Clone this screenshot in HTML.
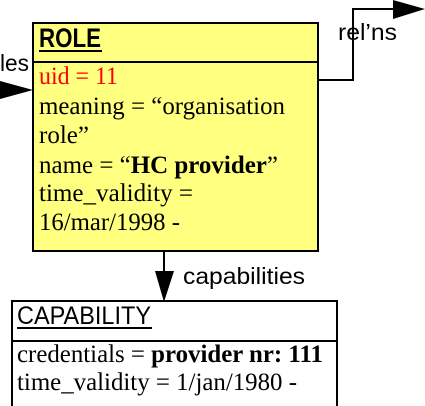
<!DOCTYPE html>
<html><head><style>html,body{margin:0;padding:0;background:#fff}svg{display:block}</style></head>
<body>
<svg width="425" height="406" xmlns="http://www.w3.org/2000/svg">
<rect x="33" y="23" width="285" height="228" fill="#ffff80" stroke="#000" stroke-width="2"/>
<line x1="33" y1="62" x2="318" y2="62" stroke="#000" stroke-width="2"/>
<text x="39" y="47" font-family="Liberation Sans, sans-serif" font-size="27" font-weight="bold" textLength="62" lengthAdjust="spacingAndGlyphs">ROLE</text>
<line x1="39" y1="51" x2="102" y2="51" stroke="#000" stroke-width="2"/>
<g font-family="Liberation Serif, serif" font-size="25">
<text x="39" y="84" fill="#f00" textLength="79" lengthAdjust="spacingAndGlyphs">uid = 11</text>
<text x="39" y="114" textLength="246" lengthAdjust="spacingAndGlyphs">meaning = “organisation</text>
<text x="39" y="143" textLength="50" lengthAdjust="spacingAndGlyphs">role”</text>
<text x="39" y="173" textLength="239" lengthAdjust="spacingAndGlyphs">name = “<tspan font-weight="bold">HC provider</tspan>”</text>
<text x="39" y="201" textLength="154" lengthAdjust="spacingAndGlyphs">time_validity =</text>
<text x="39" y="230" textLength="141" lengthAdjust="spacingAndGlyphs">16/mar/1998 -</text>
</g>
<rect x="12" y="301" width="325" height="120" fill="#fff" stroke="#000" stroke-width="2"/>
<line x1="12" y1="341" x2="337" y2="341" stroke="#000" stroke-width="2"/>
<text x="17" y="324" font-family="Liberation Sans, sans-serif" font-size="25" textLength="134" lengthAdjust="spacingAndGlyphs">CAPABILITY</text>
<line x1="17" y1="328" x2="152" y2="328" stroke="#000" stroke-width="2"/>
<g font-family="Liberation Serif, serif" font-size="25">
<text x="17" y="362" textLength="306" lengthAdjust="spacingAndGlyphs">credentials = <tspan font-weight="bold">provider nr: 111</tspan></text>
<text x="17" y="390" textLength="280" lengthAdjust="spacingAndGlyphs">time_validity = 1/jan/1980 -</text>
</g>
<line x1="164" y1="251" x2="164" y2="275" stroke="#000" stroke-width="2"/>
<polygon points="155,271 174,271 164,302" fill="#000"/>
<text x="183" y="284" font-family="Liberation Sans, sans-serif" font-size="23" textLength="122" lengthAdjust="spacingAndGlyphs">capabilities</text>
<polyline points="318,80 353,80 353,9 395,9" fill="none" stroke="#000" stroke-width="2"/>
<polygon points="393,0 425,9 393,19" fill="#000"/>
<text x="338" y="40" font-family="Liberation Sans, sans-serif" font-size="23" textLength="59" lengthAdjust="spacingAndGlyphs">rel’ns</text>
<polygon points="0,81 33,90 0,99" fill="#000"/>
<text x="0" y="71" font-family="Liberation Sans, sans-serif" font-size="23" textLength="29" lengthAdjust="spacingAndGlyphs">les</text>
</svg>
</body></html>
